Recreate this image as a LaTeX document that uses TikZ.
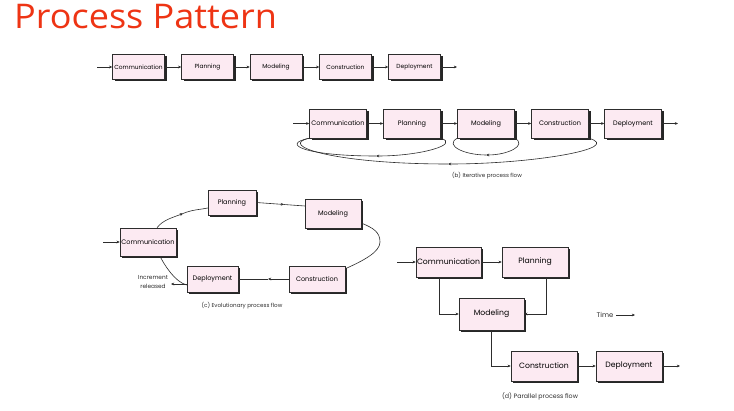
\documentclass[tikz,border=0pt]{standalone}
\usepackage{fontspec}
\setmainfont{Open Sans}
\newfontfamily\titlefont[FakeStretch=1.06]{Open Sans}
\newfontfamily\boxfont{Poppins}
\usetikzlibrary{arrows.meta,shadows}
\definecolor{boxpink}{RGB}{252,234,242}
\definecolor{titlered}{RGB}{238,52,20}
\definecolor{linegray}{RGB}{45,45,45}
\begin{document}
\begin{tikzpicture}[x=1pt,y=-1pt,
  pbox/.style={draw=linegray, line width=0.5pt, fill=boxpink, inner sep=0pt,
    drop shadow={shadow xshift=2pt, shadow yshift=-2pt, fill=black!85, opacity=1}},
  fa/.style={pbox, minimum width=52pt, minimum height=25pt, font=\boxfont\fontsize{5.9}{7}\selectfont},
  fb/.style={pbox, minimum width=57pt, minimum height=29pt, font=\boxfont\fontsize{6.5}{8}\selectfont},
  fc/.style={pbox, minimum height=26pt, font=\boxfont\fontsize{6.5}{8}\selectfont},
  fd/.style={pbox, minimum width=65pt, minimum height=30pt, font=\boxfont\fontsize{7.7}{9}\selectfont},
  capt/.style={font=\boxfont\fontsize{5.6}{7}\selectfont, text=linegray, inner sep=0pt},
  conn/.style={draw=linegray, line width=0.6pt},
  arr/.style={conn, -{Stealth[length=3.2pt,width=2.8pt]}}
]
\useasboundingbox (0,0) rectangle (734,411);
\fill[white] (0,0) rectangle (734,411);

% title
\node[anchor=base west, inner sep=0pt, text=titlered, font=\titlefont\fontsize{34}{36}\selectfont] (title) at (14,29) {Process Pattern};

% (a) linear
\node[fa] (a1) at (138.5,67) {Communication};
\node[fa] (a2) at (207.5,67) {Planning};
\node[fa] (a3) at (276,67) {Modeling};
\node[fa] (a4) at (345.5,67) {Construction};
\node[fa] (a5) at (414.5,67) {Deployment};
\coordinate (ain) at (97,67);
\coordinate (aout) at (457,67);
\draw[arr] (ain) -- (a1);
\draw[arr] (a1) -- (a2);
\draw[arr] (a2) -- (a3);
\draw[arr] (a3) -- (a4);
\draw[arr] (a4) -- (a5);
\draw[arr] (a5) -- (aout);

% (b) iterative
\node[fb] (b1) at (338,123.5) {Communication};
\node[fb] (b2) at (412,123.5) {Planning};
\node[fb] (b3) at (486,123.5) {Modeling};
\node[fb] (b4) at (560,123.5) {Construction};
\node[fb] (b5) at (633,123.5) {Deployment};
\coordinate (bin) at (293,123.5);
\coordinate (bout) at (678,123.5);
\draw[arr] (bin) -- (b1);
\draw[arr] (b1) -- (b2);
\draw[arr] (b2) -- (b3);
\draw[arr] (b3) -- (b4);
\draw[arr] (b4) -- (b5);
\draw[arr] (b5) -- (bout);
\coordinate (m1) at (376,156);
\coordinate (m2) at (486,155);
\coordinate (m3) at (448,164);
\draw[arr] (b2.south east) .. controls +(20,6) and +(45,0) .. (m1);
\draw[conn] (m1) .. controls +(-70,0) and +(-30,6) .. (b1.south west);
\draw[arr] (b3.south east) .. controls +(13,7) and +(22,0) .. (m2);
\draw[conn] (m2) .. controls +(-22,0) and +(-13,7) .. (b3.south west);
\draw[arr] (b4.south east) .. controls +(36,10) and +(85,0) .. (m3);
\draw[conn] (m3) .. controls +(-115,0) and +(-32,7) .. (b1.south west);
\node[capt] (capb) at (487,176) {(b) Iterative process flow};

% (c) evolutionary
\node[fc, minimum width=56pt, minimum height=28pt] (c1) at (148,242) {Communication};
\node[fc, minimum width=48pt, minimum height=25pt] (c2) at (232,202.5) {Planning};
\node[fc, minimum width=56pt, minimum height=29pt] (c3) at (333,213.5) {Modeling};
\node[fc, minimum width=56pt] (c4) at (317,279) {Construction};
\node[fc, minimum width=51pt] (c5) at (212.5,279) {Deployment};
\coordinate (cin) at (103,242);
\draw[arr] (cin) -- (c1);
\coordinate (cm1) at (183,213.5);
\draw[arr] ([xshift=9pt]c1.north) .. controls +(6,-8) and +(-10,4) .. (cm1);
\draw[conn] (cm1) .. controls +(10,-4) and +(-10,2) .. ([yshift=-5.5pt]c2.west);
\coordinate (cm2) at (284,204.5);
\draw[arr] (c2.east) -- (cm2);
\draw[conn] (cm2) -- ([yshift=7.5pt]c3.west);
\coordinate (cm3) at (380,242);
\draw[conn] ([yshift=-9.5pt]c3.east) .. controls +(12,5) and +(0,-10) .. (cm3)
   .. controls +(0,10) and +(18,-8) .. ([yshift=-3pt]c4.north east);
\coordinate (cm4) at (268,279);
\draw[arr] (c4.west) -- (cm4);
\draw[conn] (cm4) -- (c5.east);
\draw[conn] ([yshift=-6pt]c5.west) .. controls +(-12,-3) and +(4,8) .. ([xshift=12pt]c1.south);
\coordinate (rel) at (171,284);
\draw[arr] ([yshift=-5pt]c5.west) -- (rel);
\node[capt, align=center, font=\boxfont\fontsize{5.8}{9.5}\selectfont] (inc) at (153,282) {Increment\\released};
\node[capt] (capc) at (242,306) {(c) Evolutionary process flow};

% (d) parallel
\node[fd] (d1) at (448.5,262) {Communication};
\node[fd, minimum width=66pt] (d2) at (535,262) {Planning};
\node[fd, minimum height=32pt] (d3) at (491.5,314) {Modeling};
\node[fd, minimum width=66pt] (d4) at (544,366) {Construction};
\node[fd, minimum width=66pt] (d5) at (629,366) {Deployment};
\coordinate (din) at (397,262);
\coordinate (dout) at (680,366);
\draw[arr] (din) -- (d1);
\draw[arr] (d1) -- (d2);
\draw[arr] ([xshift=-9.5pt]d1.south) |- (d3.west);
\draw[arr] ([xshift=11pt]d2.south) |- (d3.east);
\draw[arr] (d3.south) |- (d4.west);
\draw[arr] (d4) -- (d5);
\draw[arr] (d5) -- (dout);
\node[capt, font=\boxfont\fontsize{6.8}{8}\selectfont] (time) at (605,315) {Time};
\coordinate (tend) at (635,315);
\draw[arr] ([xshift=3pt]time.east) -- (tend);
\node[capt, font=\boxfont\fontsize{6.3}{8}\selectfont] (capd) at (540,396) {(d) Parallel process flow};
\end{tikzpicture}
\end{document}
